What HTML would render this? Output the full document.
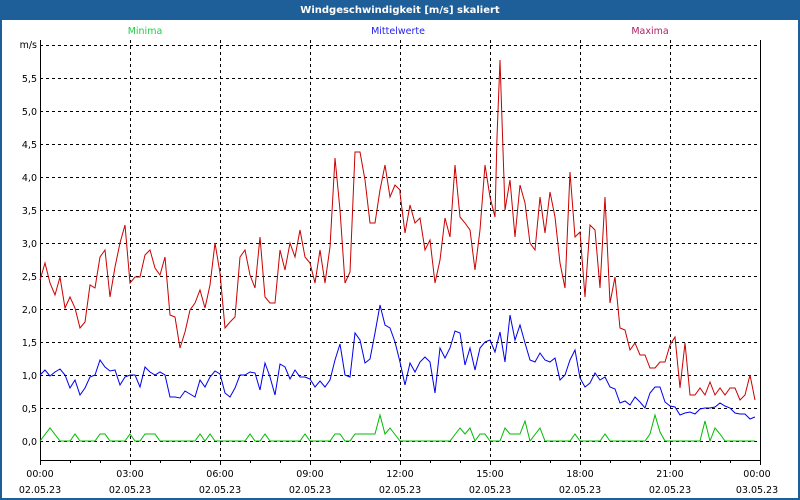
<!DOCTYPE html>
<html><head><meta charset="utf-8"><style>
html,body{margin:0;padding:0;background:#fff}
svg{display:block}
text{font-family:"DejaVu Sans","Liberation Sans",sans-serif;font-size:9.5px}
</style></head><body>
<svg width="800" height="500" viewBox="0 0 800 500" xmlns="http://www.w3.org/2000/svg">
<rect x="0" y="0" width="800" height="500" fill="#1f5f99"/>
<rect x="2" y="20" width="796" height="478" fill="#fff"/>
<text x="400" y="13" fill="#fff" text-anchor="middle" font-weight="bold" style="font-size:10px">Windgeschwindigkeit [m/s] skaliert</text>
<text x="145" y="34" fill="#22cc44" text-anchor="middle">Minima</text>
<text x="398" y="34" fill="#2222ee" text-anchor="middle">Mittelwerte</text>
<text x="650" y="34" fill="#aa2266" text-anchor="middle">Maxima</text>
<g stroke="#000" stroke-width="1" stroke-dasharray="3,3" fill="none">
<path d="M40 45.5H760M40 78.5H760M40 111.5H760M40 144.5H760M40 177.5H760M40 210.5H760M40 243.5H760M40 276.5H760M40 309.5H760M40 342.5H760M40 375.5H760M40 408.5H760M40 441.5H760"/>
<path d="M130.5 40V460M220.5 40V460M310.5 40V460M400.5 40V460M490.5 40V460M580.5 40V460M670.5 40V460"/>
</g>
<path d="M40.5 40V460.5H760.5V40" stroke="#000" fill="none"/>
<g stroke="#000"><path d="M40.5 460v5M70.5 460v3M100.5 460v3M130.5 460v5M160.5 460v3M190.5 460v3M220.5 460v5M250.5 460v3M280.5 460v3M310.5 460v5M340.5 460v3M370.5 460v3M400.5 460v5M430.5 460v3M460.5 460v3M490.5 460v5M520.5 460v3M550.5 460v3M580.5 460v5M610.5 460v3M640.5 460v3M670.5 460v5M700.5 460v3M730.5 460v3M760.5 460v5"/></g>
<g text-anchor="end" fill="#000">
<text x="37" y="48">m/s</text><text x="37" y="82">5,5</text><text x="37" y="115">5,0</text><text x="37" y="148">4,5</text><text x="37" y="181">4,0</text><text x="37" y="214">3,5</text><text x="37" y="247">3,0</text><text x="37" y="280">2,5</text><text x="37" y="313">2,0</text><text x="37" y="346">1,5</text><text x="37" y="379">1,0</text><text x="37" y="412">0,5</text><text x="37" y="445">0,0</text>
</g>
<g text-anchor="middle" fill="#000">
<text x="40" y="477">00:00</text><text x="40" y="493">02.05.23</text>
<text x="130" y="477">03:00</text><text x="130" y="493">02.05.23</text>
<text x="220" y="477">06:00</text><text x="220" y="493">02.05.23</text>
<text x="310" y="477">09:00</text><text x="310" y="493">02.05.23</text>
<text x="400" y="477">12:00</text><text x="400" y="493">02.05.23</text>
<text x="490" y="477">15:00</text><text x="490" y="493">02.05.23</text>
<text x="580" y="477">18:00</text><text x="580" y="493">02.05.23</text>
<text x="670" y="477">21:00</text><text x="670" y="493">02.05.23</text>
<text x="757" y="477">00:00</text><text x="757" y="493">03.05.23</text>
</g>
<polyline fill="none" stroke="#cc0000" stroke-width="1" points="40,280 45,263 50,283 55,295 60,277 65,308 70,297 75,308 80,328 85,322 90,285 95,288 100,257 105,250 110,297 115,267 120,243 125,225 130,283 135,277 140,277 145,255 150,250 155,268 160,275 165,257 170,315 175,317 180,348 185,332 190,310 195,303 200,290 205,308 210,285 215,243 220,273 225,328 230,322 235,317 240,257 245,250 250,275 255,288 260,237 265,297 270,303 275,303 280,250 285,270 290,243 295,257 300,230 305,257 310,263 315,283 320,250 325,283 330,247 335,158 340,210 345,283 350,272 355,152 360,152 365,180 370,223 375,223 380,190 385,165 390,197 395,185 400,190 400,193 405,233 410,205 415,223 420,218 425,250 430,240 435,283 440,260 445,218 450,237 455,165 460,217 465,223 470,230 475,270 480,230 485,165 490,197 495,217 497,137 500,60 505,210 510,180 515,237 520,185 525,203 530,243 535,250 540,197 545,233 550,192 555,217 560,263 565,288 570,172 575,237 580,232 585,297 590,225 595,230 600,288 605,197 610,303 615,277 620,328 625,330 630,350 635,343 640,355 645,355 650,368 655,368 660,362 665,362 670,345 675,337 680,388 685,343 690,395 695,395 700,388 705,395 710,382 715,395 720,388 725,395 730,388 735,388 740,400 745,395 750,375 755,400"/>
<polyline fill="none" stroke="#0000ee" stroke-width="1" points="40,375 45,370 50,376 55,372 60,369 65,375 70,388 75,380 80,395 85,388 90,377 95,375 100,360 105,367 110,371 115,370 120,385 125,377 130,375 135,375 140,387 145,367 150,372 155,375 160,372 165,375 170,397 175,397 180,398 185,391 190,394 195,397 200,380 205,387 210,377 215,371 220,374 225,393 230,397 235,388 240,375 245,375 250,372 255,373 260,390 265,363 270,377 275,395 280,364 285,367 290,379 295,370 300,377 305,377 310,379 315,387 320,381 325,387 330,380 335,360 340,344 345,375 350,377 355,333 360,340 365,363 370,359 375,333 380,305 385,325 390,328 395,342 400,362 405,385 410,363 415,372 420,362 425,357 430,362 435,393 440,348 445,358 450,348 455,331 460,333 465,365 470,348 475,370 480,348 485,342 490,340 495,352 500,332 505,362 510,315 515,340 520,325 525,343 530,360 535,362 540,353 545,360 550,362 555,358 560,380 565,375 570,360 575,350 580,378 585,387 590,383 595,373 600,380 605,377 610,387 615,389 620,403 625,401 630,405 635,397 640,402 645,408 650,393 655,387 660,387 665,402 670,406 675,407 680,415 685,413 690,412 695,414 700,409 705,408 710,408 715,407 720,403 725,406 730,408 735,413 740,414 745,414 750,419 755,417"/>
<polyline fill="none" stroke="#00bb00" stroke-width="1" points="40,441 50,428 60,441 70,441 75,434 80,441 95,441 100,434 105,434 110,441 125,441 130,434 135,441 140,441 145,434 155,434 160,441 195,441 200,434 205,441 210,434 215,441 245,441 250,434 255,441 260,441 265,434 270,441 300,441 305,434 310,441 330,441 335,434 340,434 345,441 350,441 355,434 375,434 380,415 385,434 390,428 400,441 450,441 460,428 465,434 470,428 475,441 480,434 485,434 490,441 500,441 505,428 510,434 520,434 525,421 530,441 540,428 545,441 570,441 575,434 580,441 600,441 605,434 610,441 645,441 650,434 655,415 660,432 665,441 700,441 705,421 710,441 715,428 720,434 725,441 755,441"/>
</svg>
</body></html>
